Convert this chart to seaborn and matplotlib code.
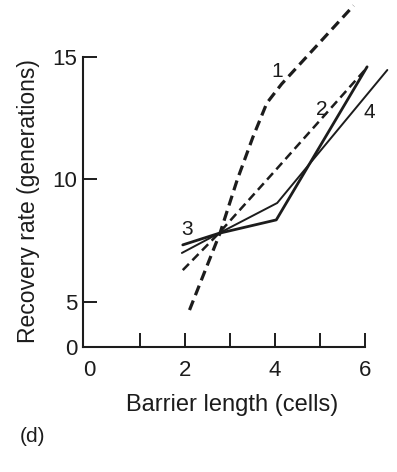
import matplotlib
matplotlib.use("Agg")
import matplotlib.pyplot as plt
import matplotlib.transforms as mtransforms
import seaborn as sns
import pandas as pd

sns.set_style("white")
plt.rcParams['font.family'] = ['Liberation Sans', 'DejaVu Sans']

# Series (barrier length vs recovery rate)
x1 = [2.1, 2.78, 3.16, 3.51, 3.82, 3.98, 4.15, 5.75]
y1 = [4.67, 7.82, 9.98, 11.73, 13.12, 13.5, 13.9, 17.1]
x2 = [1.95, 2.75, 4.0, 6.04]
y2 = [6.3, 7.8, 10.35, 14.55]
x3 = [1.95, 2.75, 4.03, 6.05]
y3 = [7.33, 7.8, 8.35, 14.6]
x4 = [1.93, 2.75, 4.05, 6.5]
y4 = [7.0, 7.8, 9.04, 14.47]

series_labels = ["1", "2", "3", "4"]
label_x = [4.04, 5.04, 2.04, 6.11]
label_y = [14.4, 12.85, 7.95, 12.75]

xtick_pos = [0, 1, 2, 3, 4, 5, 6]
xtick_labels = ["0", "", "2", "", "4", "", "6"]
ytick_pos = [3.16, 5, 10, 15]
ytick_labels = ["0", "5", "10", "15"]

ink = "#1c1c1c"

fig = plt.figure(figsize=(3.97, 4.72), dpi=100)
ax = fig.add_axes([0.209, 0.2648, 0.710, 0.6144])

styles = [
    (x1, y1, 2.3, (0, (3.2, 1.8))),
    (x2, y2, 1.8, (0, (3.5, 2.0))),
    (x3, y3, 2.0, "-"),
    (x4, y4, 1.4, "-"),
]
for xs, ys, lw, ls in styles:
    df = pd.DataFrame({"x": xs, "y": ys})
    sns.lineplot(data=df, x="x", y="y", ax=ax, color=ink, linewidth=lw,
                 linestyle=ls, sort=False, estimator=None, clip_on=False)

for t, lx, ly in zip(series_labels, label_x, label_y):
    ax.text(lx, ly, t, fontsize=15, color=ink, ha="center", va="center")

ax.set_xlim(-0.27, 6)
ax.set_ylim(3.16, 15)
ax.set_xticks(xtick_pos)
ax.set_xticklabels(xtick_labels)
ax.set_yticks(ytick_pos)
ax.set_yticklabels(ytick_labels)
ax.tick_params(axis="both", bottom=True, left=True, direction="in", length=10,
               width=1.4, colors=ink, labelsize=16)
ax.tick_params(axis="x", pad=9)
ax.tick_params(axis="y", pad=4)
ax.xaxis.get_major_ticks()[0].tick1line.set_visible(False)
ax.yaxis.get_major_ticks()[0].tick1line.set_visible(False)

# nudge the "0" x label slightly left, as in the original
lbl0 = ax.get_xticklabels()[0]
lbl0.set_transform(lbl0.get_transform() +
                   mtransforms.ScaledTranslation(-6 / 100, 0, fig.dpi_scale_trans))

for side in ["top", "right"]:
    ax.spines[side].set_visible(False)
for side in ["left", "bottom"]:
    ax.spines[side].set_linewidth(1.5)
    ax.spines[side].set_color(ink)

ax.set_xlabel("Barrier length (cells)", fontsize=17, color=ink)
ax.set_ylabel("Recovery rate (generations)", fontsize=16.5, color=ink)
ax.xaxis.set_label_coords(0.528, -0.162)
ax.yaxis.set_label_coords(-0.152, 0.503)

fig.text(20 / 397, 1 - 437 / 472, "(d)", fontsize=15, color=ink, va="center")

fig.savefig("out.png", dpi=100)
